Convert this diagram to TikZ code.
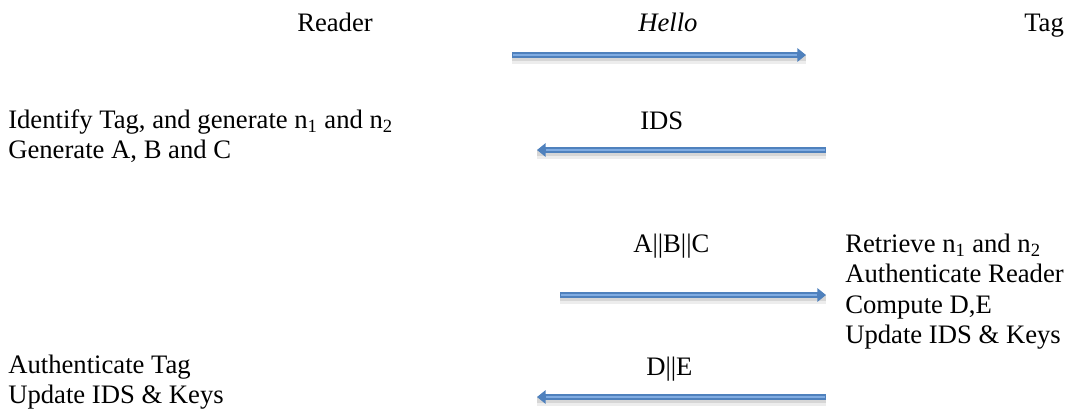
\documentclass[tikz,border=0pt]{standalone}
\usepackage{fontspec}
\setmainfont{Liberation Serif}
\usetikzlibrary{arrows.meta}
\definecolor{msgblue}{RGB}{79,129,189}
\definecolor{msgstripe}{RGB}{128,172,226}
\tikzset{
  lbl/.style={anchor=base west, inner sep=0pt, font=\fontsize{20pt}{22.5pt}\selectfont},
  msg/.style={
    draw=msgblue, line width=5pt,
    -{Triangle[length=6.5pt,width=10pt]},
    preaction={draw=black!7, line width=6.5pt, -, transform canvas={yshift=-3.2pt}},
    preaction={draw=black!16, line width=4.5pt, -, transform canvas={yshift=-2.6pt}},
    postaction={draw=msgstripe, line width=1.6pt, -, shorten <=1pt, shorten >=6.5pt}
  }
}
\begin{document}
\begin{tikzpicture}[x=0.75pt,y=-0.75pt]
\useasboundingbox (0,0) rectangle (1066,410);

% column heads
\node[lbl] (reader) at (297,32) {Reader};
\node[lbl] (hello) at (638,32) {\itshape Hello};
\node[lbl] (tag) at (1024,32) {Tag};

% reader side
\node[lbl] (r1) at (8,128) {Identify Tag, and generate n\textsubscript{1} and n\textsubscript{2}};
\node[lbl] (r2) at (8,158) {Generate A, B and C};
\node[lbl] (r3) at (8,373) {Authenticate Tag};
\node[lbl] (r4) at (8,403) {Update IDS \& Keys};

% tag side
\node[lbl] (t1) at (845,252) {Retrieve n\textsubscript{1} and n\textsubscript{2}};
\node[lbl] (t2) at (845,282) {Authenticate Reader};
\node[lbl] (t3) at (845,313) {Compute D,E};
\node[lbl] (t4) at (845,343) {Update IDS \& Keys};

% message labels
\node[lbl] (ids) at (640,129) {IDS};
\node[lbl] (abc) at (633,252) {A||B||C};
\node[lbl] (de) at (646,375) {D||E};

% message arrows
\coordinate (m1a) at (512,55);  \coordinate (m1b) at (806,55);
\coordinate (m2a) at (826,150); \coordinate (m2b) at (537,150);
\coordinate (m3a) at (560,295); \coordinate (m3b) at (826,295);
\coordinate (m4a) at (826,397); \coordinate (m4b) at (537,397);

\draw[msg] (m1a) -- (m1b);
\draw[msg] (m2a) -- (m2b);
\draw[msg] (m3a) -- (m3b);
\draw[msg] (m4a) -- (m4b);
\end{tikzpicture}
\end{document}
